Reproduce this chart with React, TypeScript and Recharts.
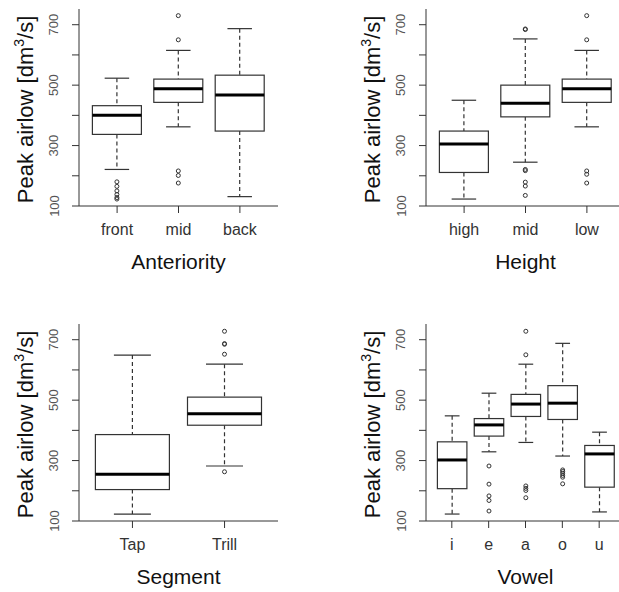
import { ComposedChart, Bar, XAxis, YAxis, Label } from 'recharts';

const FONT = '"Liberation Sans", Arial, sans-serif';
const INK = '#333';

// Anteriority
const anteriorityNames = ['front', 'mid', 'back'];
const anteriorityLow = [221, 362, 131];
const anteriorityQ1 = [337, 443, 348];
const anteriorityMed = [400, 488, 467];
const anteriorityQ3 = [432, 520, 533];
const anteriorityHigh = [523, 615, 687];
const anteriorityOut = [[180, 165, 150, 138, 128, 123], [730, 650, 216, 201, 176], []];

// Height
const heightNames = ['high', 'mid', 'low'];
const heightLow = [123, 245, 362];
const heightQ1 = [211, 395, 443];
const heightMed = [305, 440, 488];
const heightQ3 = [348, 500, 520];
const heightHigh = [450, 653, 615];
const heightOut = [[], [686, 684, 221, 217, 179, 166, 135], [730, 650, 216, 205, 176]];

// Segment
const segmentNames = ['Tap', 'Trill'];
const segmentLow = [123, 282];
const segmentQ1 = [204, 417];
const segmentMed = [255, 455];
const segmentQ3 = [386, 510];
const segmentHigh = [649, 619];
const segmentOut = [[], [728, 687, 685, 652, 263]];

// Vowel
const vowelNames = ['i', 'e', 'a', 'o', 'u'];
const vowelLow = [123, 329, 360, 315, 130];
const vowelQ1 = [207, 381, 446, 436, 212];
const vowelMed = [302, 418, 487, 490, 322];
const vowelQ3 = [362, 439, 519, 548, 350];
const vowelHigh = [448, 523, 619, 688, 394];
const vowelOut = [[], [282, 222, 183, 168, 133], [728, 650, 216, 208, 201, 177], [269, 264, 258, 251, 245, 223], []];

const yTicks = [100, 200, 300, 400, 500, 600, 700];
const yLabelled = [100, 300, 500, 700];

function makeRows(names: string[], low: number[], q1: number[], med: number[], q3: number[], high: number[], out: number[][]) {
  return names.map((name, i) => ({
    name,
    range: [low[i], high[i]],
    low: low[i],
    q1: q1[i],
    med: med[i],
    q3: q3[i],
    high: high[i],
    out: out[i],
  }));
}

// whisker + box + median + outliers, positioned from the range bar the scale gave us
function BoxShape(props: any) {
  const { x, y, width, height, payload } = props;
  const top = Math.min(y, y + height);
  const h = Math.abs(height);
  const { low, q1, med, q3, high, out } = payload;
  const py = (v: number) => top + (h * (high - v)) / (high - low);
  const cx = x + width / 2;
  const cap = width / 4;
  return (
    <g>
      <line x1={cx} x2={cx} y1={py(high)} y2={py(q3)} stroke={INK} strokeWidth={1.2} strokeDasharray="4 3" />
      <line x1={cx} x2={cx} y1={py(q1)} y2={py(low)} stroke={INK} strokeWidth={1.2} strokeDasharray="4 3" />
      <line x1={cx - cap} x2={cx + cap} y1={py(high)} y2={py(high)} stroke={INK} strokeWidth={1.2} />
      <line x1={cx - cap} x2={cx + cap} y1={py(low)} y2={py(low)} stroke={INK} strokeWidth={1.2} />
      <rect x={x} y={py(q3)} width={width} height={py(q1) - py(q3)} fill="#fff" stroke={INK} strokeWidth={1.2} />
      <line x1={x} x2={x + width} y1={py(med)} y2={py(med)} stroke="#000" strokeWidth={3} />
      {out.map((v: number, k: number) => (
        <circle key={k} cx={cx} cy={py(v)} r={2} fill="none" stroke={INK} strokeWidth={1} />
      ))}
    </g>
  );
}

function YTick(props: any) {
  const { x, y, payload } = props;
  if (!yLabelled.includes(payload.value)) return null;
  const cx = x - 16;
  return (
    <text x={cx} y={y} transform={`rotate(-90, ${cx}, ${y})`} textAnchor="middle" dominantBaseline="central"
      fontSize={13} fill="#555" fontFamily={FONT}>
      {payload.value}
    </text>
  );
}

function YTitle(props: any) {
  const { viewBox } = props;
  const bx = viewBox.x + 33;
  const cy = viewBox.y + viewBox.height / 2 + 2;
  return (
    <text x={bx} y={cy} transform={`rotate(-90, ${bx}, ${cy})`} textAnchor="middle" fontSize={22} fill="#111" fontFamily={FONT}>
      Peak airlow [dm<tspan dy={-9} fontSize={14}>3</tspan><tspan dy={9}>/s]</tspan>
    </text>
  );
}

function Panel({ data, title, left, top, barSize }: { data: any[]; title: string; left: number; top: number; barSize: number }) {
  const xTitle = (p: any) => (
    <text x={p.viewBox.x + p.viewBox.width / 2} y={p.viewBox.y + 63} textAnchor="middle" fontSize={21} fill="#111" fontFamily={FONT}>
      {title}
    </text>
  );
  return (
    <div style={{ position: 'absolute', left, top }}>
      <ComposedChart width={310} height={290} data={data} margin={{ top: 9, right: 32, bottom: 0, left: 0 }}>
        <XAxis dataKey="name" type="category" height={84} interval={0} padding={{ left: 7.4, right: 7.4 }}
          tickSize={7} tickMargin={11} stroke={INK} tick={{ fontSize: 16, fill: INK, fontFamily: FONT }}
          label={<Label content={xTitle} />} />
        <XAxis xAxisId="top" orientation="top" dataKey="name" height={0} tick={false} tickLine={false} stroke={INK} />
        <YAxis type="number" domain={[100, 752]} allowDataOverflow ticks={yTicks} interval={0} width={79}
          tickSize={7} stroke={INK} tick={<YTick />} label={<Label content={<YTitle />} />} />
        <YAxis yAxisId="right" orientation="right" type="number" domain={[100, 752]} width={0} tick={false} tickLine={false} stroke={INK} />
        <Bar dataKey="range" barSize={barSize} shape={<BoxShape />} isAnimationActive={false} />
      </ComposedChart>
    </div>
  );
}

export default function App() {
  const anteriority = makeRows(anteriorityNames, anteriorityLow, anteriorityQ1, anteriorityMed, anteriorityQ3, anteriorityHigh, anteriorityOut);
  const height = makeRows(heightNames, heightLow, heightQ1, heightMed, heightQ3, heightHigh, heightOut);
  const segment = makeRows(segmentNames, segmentLow, segmentQ1, segmentMed, segmentQ3, segmentHigh, segmentOut);
  const vowel = makeRows(vowelNames, vowelLow, vowelQ1, vowelMed, vowelQ3, vowelHigh, vowelOut);
  return (
    <div style={{ position: 'absolute', left: 0, top: 0, width: 619, height: 592, overflow: 'hidden', background: '#fff' }}>
      <Panel data={anteriority} title="Anteriority" left={0} top={0} barSize={49} />
      <Panel data={height} title="Height" left={347} top={0} barSize={49} />
      <Panel data={segment} title="Segment" left={0} top={315} barSize={74} />
      <Panel data={vowel} title="Vowel" left={347} top={315} barSize={29.5} />
    </div>
  );
}
